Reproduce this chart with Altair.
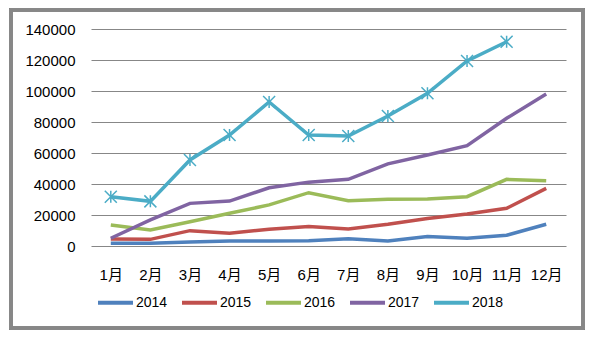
import altair as alt
import pandas as pd

months = ["1月", "2月", "3月", "4月", "5月", "6月", "7月", "8月", "9月", "10月", "11月", "12月"]
series_names = ["2014", "2015", "2016", "2017", "2018"]
v2014 = [1700, 1700, 2600, 3200, 3300, 3400, 4700, 3200, 6200, 5000, 6900, 14000]
v2015 = [4500, 4300, 9900, 8200, 10800, 12500, 11000, 14000, 17800, 20600, 24300, 37200]
v2016 = [13500, 10300, 15700, 21100, 26500, 34400, 29200, 30100, 30300, 31800, 43000, 42100]
v2017 = [5000, 16800, 27500, 29000, 37600, 41200, 43000, 53000, 58700, 64700, 82400, 98000]
v2018 = [31800, 28800, 55500, 71600, 92900, 71600, 71000, 83900, 98500, 119400, 131800]
colors = ["#4F81BD", "#C0504D", "#9BBB59", "#8064A2", "#4BACC6"]
y_ticks = [0, 20000, 40000, 60000, 80000, 100000, 120000, 140000]

rows = []
for name, vals in zip(series_names, [v2014, v2015, v2016, v2017, v2018]):
    for m, v in zip(months, vals):
        rows.append({"month": m, "series": name, "value": v})
df = pd.DataFrame(rows)

FONT = "Liberation Sans, Noto Sans CJK SC"
W, H = 475, 217

x_enc = alt.X("month:N", sort=months, scale=alt.Scale(type="point", padding=0.5),
              axis=alt.Axis(title=None, domain=False, ticks=False, grid=False,
                            labelPadding=21, labelFontSize=15, labelColor="#000000",
                            labelFont=FONT, labelAngle=0))
y_enc = alt.Y("value:Q", scale=alt.Scale(domain=[0, 140000], nice=False),
              axis=alt.Axis(title=None, domain=False, ticks=False, values=y_ticks,
                            labelPadding=16, labelFontSize=15, labelColor="#000000",
                            labelFont=FONT, gridColor="#878787", gridWidth=1,
                            format="d"))
color_enc = alt.Color("series:N", scale=alt.Scale(domain=series_names, range=colors),
                      legend=alt.Legend(title=None, orient="none", direction="horizontal",
                                        legendX=5, legendY=254, symbolType="stroke",
                                        symbolSize=1225, symbolStrokeWidth=4,
                                        labelFontSize=14, labelFont=FONT,
                                        labelColor="#000000", labelOffset=1,
                                        columnPadding=6, symbolOpacity=1))

lines = alt.Chart(df).mark_line(strokeWidth=3.5).encode(x=x_enc, y=y_enc, color=color_enc)

star = "M-1,-1L1,1M-1,1L1,-1M0,-1L0,1"
points = alt.Chart(df).transform_filter(alt.datum.series == "2018").mark_point(
    shape=star, size=144, filled=False, strokeWidth=1.5, color="#4BACC6", opacity=1
).encode(x=x_enc, y=y_enc)

frame = alt.Chart(df).mark_rect(fill=None, stroke="#878787", strokeWidth=2.5, clip=False).encode(
    x=alt.value(-80), x2=alt.value(492), y=alt.value(-19), y2=alt.value(299))

chart = alt.layer(frame, lines, points).properties(
    width=W, height=H,
    autosize=alt.AutoSizeParams(type="none"),
    padding={"left": 91, "top": 29, "right": 24, "bottom": 92},
    background="#FFFFFF",
).configure_view(stroke=None)

chart.save("out.html", embed_options={"renderer": "svg", "actions": False})
